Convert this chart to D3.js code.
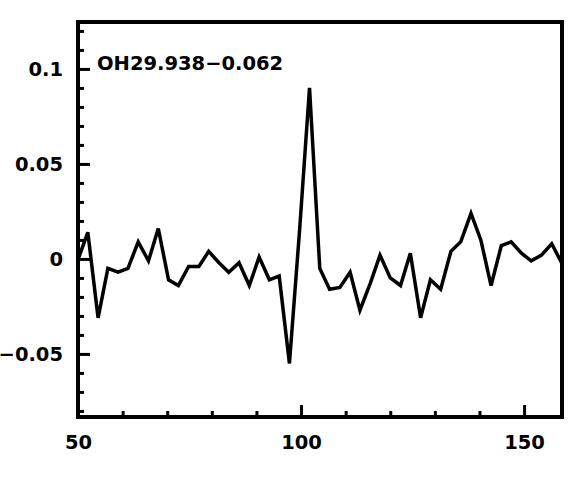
<!DOCTYPE html>
<html>
<head>
<meta charset="utf-8">
<script src="https://cdn.jsdelivr.net/npm/d3@7"></script>
<style>
  body { margin: 0; background: #fff; }
  .tick text { font-family: "DejaVu Sans", sans-serif; font-weight: bold; font-size: 19.5px; fill: #000; }
</style>
</head>
<body>
<div id="chart"></div>
<script>
// spectrum channels (velocity)
var velocity = [49.9, 52.2, 54.5, 56.7, 59.0, 61.2, 63.5, 65.8, 68.0, 70.3, 72.5,
  74.8, 77.1, 79.3, 81.6, 83.8, 86.1, 88.4, 90.6, 92.9, 95.1,
  97.4, 99.7, 101.9, 104.2, 106.4, 108.7, 111.0, 113.2, 115.5, 117.7,
  120.0, 122.3, 124.5, 126.8, 129.0, 131.3, 133.6, 135.8, 138.1, 140.3,
  142.6, 144.9, 147.1, 149.4, 151.6, 153.9, 156.2, 158.4];

var flux = [-0.001, 0.014, -0.031, -0.005, -0.007, -0.005, 0.009, -0.001, 0.016, -0.011, -0.014,
  -0.004, -0.004, 0.004, -0.002, -0.007, -0.002, -0.014, 0.001, -0.011, -0.009,
  -0.055, 0.016, 0.090, -0.005, -0.016, -0.015, -0.007, -0.027, -0.013, 0.002,
  -0.010, -0.014, 0.003, -0.031, -0.011, -0.016, 0.004, 0.009, 0.024, 0.010,
  -0.014, 0.007, 0.009, 0.003, -0.001, 0.002, 0.008, -0.002];

var xTicks = [50, 100, 150];
var xMinorTicks = [60, 70, 80, 90, 110, 120, 130, 140];
var yTicks = [0.1, 0.05, 0, -0.05];
var yTickLabels = ["0.1", "0.05", "0", "\u22120.05"];
var yMinorTicks = [0.12, 0.11, 0.09, 0.08, 0.07, 0.06, 0.04, 0.03, 0.02, 0.01,
  -0.01, -0.02, -0.03, -0.04, -0.06, -0.07, -0.08];
var sourceName = "OH29.938\u22120.062";

var svgWidth = 570;
var svgHeight = 500;

var margin = { top: 22, right: 8, bottom: 83, left: 78 };
var width = svgWidth - margin.left - margin.right;
var height = svgHeight - margin.top - margin.bottom;

var svg = d3.select("#chart")
  .append("svg")
  .attr("width", svgWidth)
  .attr("height", svgHeight);

var chartGroup = svg.append("g")
  .attr("transform", `translate(${margin.left}, ${margin.top})`);

var xScale = d3.scaleLinear()
  .domain([50, 158.5])
  .range([0, width]);

var yScale = d3.scaleLinear()
  .domain([-0.0832, 0.1247])
  .range([height, 0]);

// clip so the first/last segment stops at the frame
chartGroup.append("clipPath")
  .attr("id", "plotClip")
  .append("rect")
  .attr("width", width)
  .attr("height", height);

// minor ticks (inward, no labels)
chartGroup.append("g")
  .attr("transform", `translate(0, ${height})`)
  .call(d3.axisBottom(xScale).tickValues(xMinorTicks).tickSize(-6).tickFormat(""))
  .call(g => g.select(".domain").remove())
  .selectAll("line").attr("stroke", "#000").attr("stroke-width", 3);

chartGroup.append("g")
  .call(d3.axisLeft(yScale).tickValues(yMinorTicks).tickSize(-6).tickFormat(""))
  .call(g => g.select(".domain").remove())
  .selectAll("line").attr("stroke", "#000").attr("stroke-width", 3);

// major ticks with labels
var bottomAxis = d3.axisBottom(xScale)
  .tickValues(xTicks)
  .tickSize(-12)
  .tickPadding(18)
  .tickFormat(d3.format("d"));

var leftAxis = d3.axisLeft(yScale)
  .tickValues(yTicks)
  .tickSize(-12)
  .tickPadding(15)
  .tickFormat((d, i) => yTickLabels[i]);

chartGroup.append("g")
  .attr("transform", `translate(0, ${height})`)
  .call(bottomAxis)
  .call(g => g.select(".domain").remove())
  .selectAll("line").attr("stroke", "#000").attr("stroke-width", 3);

chartGroup.append("g")
  .call(leftAxis)
  .call(g => g.select(".domain").remove())
  .selectAll("line").attr("stroke", "#000").attr("stroke-width", 3);

// spectrum line
var points = velocity.map((v, i) => [v, flux[i]]);

var line = d3.line()
  .x(d => xScale(d[0]))
  .y(d => yScale(d[1]));

chartGroup.append("path")
  .datum(points)
  .attr("clip-path", "url(#plotClip)")
  .attr("d", line)
  .attr("fill", "none")
  .attr("stroke", "#000")
  .attr("stroke-width", 3.5)
  .attr("stroke-linejoin", "miter");

// frame
chartGroup.append("rect")
  .attr("width", width)
  .attr("height", height)
  .attr("fill", "none")
  .attr("stroke", "#000")
  .attr("stroke-width", 4);

// source label
chartGroup.append("text")
  .attr("x", 19)
  .attr("y", 48)
  .style("font-family", "'DejaVu Sans', sans-serif")
  .style("font-weight", "bold")
  .style("font-size", "19.5px")
  .text(sourceName);
</script>
</body>
</html>
